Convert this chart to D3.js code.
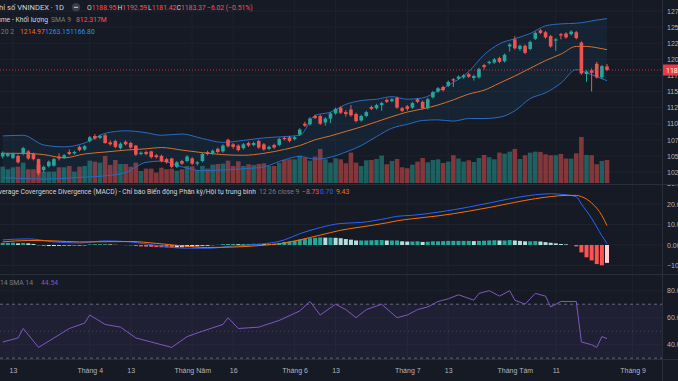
<!DOCTYPE html>
<html>
<head>
<meta charset="utf-8">
<script src="https://cdn.jsdelivr.net/npm/d3@7"></script>
<style>
body { margin: 0; background: #161a25; }
svg { display: block; font-family: Roboto, "Liberation Sans", sans-serif; }
</style>
</head>
<body>
<svg id="chart"></svg>
<script>
const WIDTH = 678;
const HEIGHT = 381;

// Daily candles, VNINDEX, 9 Mar 2023 .. 25 Aug 2023 (bar index 0..118)
const opens = [1049,1050,1047,1050,1053,1057,1053,1045,1028,1034,1035,1049,1047,1056,1054,1064,1060,1073,1081,1078,
  1082,1071,1073,1062,1072,1070,1066,1053,1056,1057,1051,1050,1045,1046,1033,1042,1042,1046,1038,1042,
  1056,1054,1061,1057,1075,1068,1066,1062,1070,1067,1073,1068,1061,1067,1067,1078,1079,1076,1083,1100,
  1099,1112,1112,1102,1108,1116,1125,1118,1122,1115,1105,1112,1126,1124,1129,1137,1135,1140,1124,1127,
  1125,1138,1134,1124,1141,1150,1157,1159,1169,1170,1172,1177,1171,1172,1191,1194,1195,1202,1197,1220,
  1231,1216,1221,1216,1232,1245,1242,1236,1229,1239,1240,1239,1242,1226,1177,1183,1193,1172,1188.95];
const highs = [1057,1055,1055,1052,1064,1059,1055,1046,1035,1043,1047,1054,1053,1060,1058,1066,1067,1081,1084,1083,
  1084,1074,1075,1071,1074,1072,1067,1057,1058,1058,1053,1052,1047,1047,1042,1044,1051,1048,1042,1055,
  1058,1060,1063,1068,1077,1070,1068,1070,1072,1072,1075,1070,1066,1069,1078,1080,1081,1081,1093,1103,
  1110,1114,1114,1110,1118,1125,1127,1121,1129,1117,1114,1120,1128,1131,1134,1139,1140,1142,1126,1129,
  1134,1140,1136,1140,1151,1157,1159,1167,1171,1175,1177,1179,1176,1187,1193,1198,1202,1204,1209,1225,
  1236,1223,1223,1229,1243,1247,1244,1238,1233,1241,1242,1245,1244,1228,1183,1186,1196,1191,1192.59];
const lows = [1046,1048,1045,1038,1051,1044,1043,1020,1024,1032,1033,1043,1045,1051,1052,1057,1058,1071,1075,1076,
  1069,1066,1062,1060,1066,1061,1050,1051,1051,1046,1046,1040,1038,1031,1031,1036,1040,1036,1035,1040,
  1051,1052,1054,1055,1063,1061,1057,1060,1064,1065,1061,1058,1059,1061,1065,1074,1071,1074,1081,1095,
  1097,1107,1098,1097,1101,1114,1115,1111,1111,1102,1103,1110,1121,1122,1120,1132,1133,1123,1118,1120,
  1123,1132,1122,1122,1139,1148,1150,1157,1157,1168,1170,1171,1167,1170,1184,1192,1193,1194,1195,1212,
  1215,1213,1208,1214,1230,1239,1232,1218,1213,1231,1232,1237,1231,1176,1165,1150,1170,1169,1181.42];
const closes = [1055,1053,1053,1040,1062,1046,1045,1023,1033,1041,1045,1046,1051,1053,1056,1059,1065,1079,1077,1081,
  1070,1068,1064,1069,1068,1063,1052,1055,1053,1048,1048,1042,1040,1033,1040,1038,1049,1038,1040,1053,
  1053,1058,1056,1066,1065,1064,1059,1068,1066,1070,1063,1060,1064,1063,1076,1076,1073,1079,1091,1097,
  1108,1109,1100,1108,1116,1123,1117,1115,1113,1104,1112,1118,1123,1129,1132,1134,1138,1125,1120,1123,
  1132,1134,1124,1138,1149,1155,1152,1165,1167,1173,1175,1173,1174,1185,1188,1196,1200,1196,1207,1223,
  1217,1221,1210,1227,1241,1241,1234,1220,1231,1237,1234,1243,1233,1178,1181,1179,1172,1189.39,1183.37];
// volume, millions of shares
const volumes = [575,484,553,575,717,484,484,646,400,400,400,553,553,600,400,575,600,787,752,717,
  953,636,812,670,670,575,717,424,506,506,365,540,484,506,435,484,600,590,460,600,
  506,646,670,682,787,600,764,600,660,636,670,694,600,600,717,812,835,835,965,894,
  787,930,1200,835,717,870,835,695,1070,717,600,800,812,847,965,660,777,847,553,520,
  647,753,882,730,812,835,706,753,977,860,753,800,740,882,988,907,835,1070,1035,1105,
  1200,847,977,1070,1105,1095,1010,977,977,1024,860,860,1047,1620,988,977,660,777,812.317];

// Bollinger Bands 20 2, read at these bar indices
const bbIdx   = [0,4,8,12,16,20,24,28,31,35,39,43,47,51,55,58,61,64,67,70,73,76,79,82,85,88,91,94,97,100,103,106,109,112,114,116,118];
const bbUpper = [1081,1082,1067,1064,1070,1085,1089,1086,1082,1084,1077,1071,1074,1078,1080,1082,1113,1118,1130,1136,1138,1142,1138,1140,1151,1164,1181,1207,1224,1232,1240,1252,1255,1256,1258,1261,1263.15];
const bbBasis = [1054,1054,1052,1047,1053,1056,1059,1061,1063,1059,1055,1052,1051,1054,1060,1066,1075,1081,1088,1095,1103,1111,1118,1123,1129,1137,1146,1152,1163,1174,1186,1198,1208,1220,1220,1218,1214.97];
const bbLower = [1016,1015,1014,1015,1017,1019,1024,1040,1042,1033,1027,1028,1030,1033,1044,1049,1045,1048,1056,1066,1080,1093,1099,1105,1106,1104,1108,1108,1110,1120,1139,1148,1163,1184,1179,1173,1166.80];

// MACD 12 26 9, lines read at these indices
const macdIdx  = [0,5,10,15,20,25,30,35,40,45,50,55,58,62,66,70,75,77,80,85,91,95,100,104,107,110,112,113,115,117,118];
const macdLine = [2.5,3.0,1.5,1.0,2.0,1.5,-0.2,-1.5,-1.6,-0.5,0.3,2.5,5.5,8.5,10.5,11,13,14,14.5,16,18.5,20.5,23,24.5,25,24.5,23.5,20,13,4.5,0.70];
const sigLine  = [1.5,2.2,2.0,1.5,1.6,1.7,0.8,-0.4,-1.2,-1.0,-0.3,1.0,2.5,4.8,7.2,8.8,10.8,11.8,12.8,14.2,16.5,18.3,20.8,22.6,23.6,24.2,24.2,23.6,20.5,14.4,9.43];
const macdHist = [1.0,1.0,1.1,0.8,1.0,0.8,0.5,-0.2,-0.5,-0.5,
  -0.5,-0.4,-0.3,-0.3,-0.4,-0.5,-0.2,0.3,0.4,0.4,
  0.4,0.3,0.1,0.0,-0.1,-0.2,-0.5,-0.7,-0.8,-0.9,
  -1.0,-1.1,-1.2,-1.3,-1.2,-1.1,-0.8,-0.8,-0.6,-0.4,
  -0.4,-0.1,0.1,0.4,0.5,0.5,0.4,0.5,0.5,0.6,
  0.6,0.5,0.6,0.6,1.0,1.5,1.7,2.0,2.6,3.0,
  3.3,3.5,3.7,3.6,3.6,3.5,3.3,2.9,2.6,2.2,
  2.2,2.2,2.3,2.4,2.4,2.2,2.2,2.2,1.8,1.7,
  1.7,1.8,1.5,1.6,1.8,1.8,1.9,2.0,2.0,2.0,
  2.0,2.0,1.9,2.0,2.1,2.2,2.3,2.2,2.2,2.4,
  2.2,2.0,1.8,1.8,1.9,1.7,1.4,1.1,0.8,0.5,
  0.3,0.0,-0.7,-3.6,-6.0,-7.5,-9.3,-9.9,-8.73];

// RSI 14, read at these indices
const rsiIdx  = [0,3,4,7,10,13,16,17,20,23,26,29,33,36,39,43,44,46,50,54,58,60,62,65,67,69,71,74,77,79,81,83,85,87,89,92,93,95,97,99,100,102,104,106,107,109,112,113,115,116,117,118];
const rsiVals = [42,45,52,38,45,52,56,62,55,53,45,42,38,46,50,55,60,52,53,58,65,72,62,70,66,60,66,70,60,62,66,68,72,74,77,73,78,80,76,80,73,70,78,76,68,72,72,42,40,38,46,44.54];

// ticks
const priceTicks = [1025,1050,1075,1100,1125,1150,1175,1200,1225,1250,1275];
const macdTicks = [-10,0,10,20,30];
const rsiTicks = [40,60,80];
const timeTickIdx = [2,17,25,37,45,57,65,79,87,100,108,123];
const timeTickLabels = ["13","Tháng 4","13","Tháng Năm","16","Tháng 6","13","Tháng 7","13","Tháng Tám","11","Tháng 9"];

const BG = "#161a25", GRID = "#1e222d", BORDER = "#2a2e39", TXT = "#b2b5be";
const UP = "#26a69a", DOWN = "#ef5350";
const PLOT_R = 662;
const FS = 6.8;

const svg = d3.select("#chart").attr("width", WIDTH).attr("height", HEIGHT);
svg.append("rect").attr("width", WIDTH).attr("height", HEIGHT).attr("fill", BG);

const defs = svg.append("defs");
function clip(id, y, h) {
  defs.append("clipPath").attr("id", id).append("rect").attr("x", 0).attr("y", y).attr("width", PLOT_R).attr("height", h);
  return "url(#" + id + ")";
}
const mainClip = clip("c-main", 0, 184);
const macdClip = clip("c-macd", 185, 88);
const rsiClip = clip("c-rsi", 275, 84);

// scales
const x = d3.scaleLinear().domain([0, 118]).range([2.7, 607]);
const yPrice = d3.scaleLinear().domain([1000, 1275]).range([188.1, 11]);
const yVol = d3.scaleLinear().domain([0, 1620]).range([183, 137]);
const yMacd = d3.scaleLinear().domain([-10, 20]).range([265.5, 204]);
const yRsi = d3.scaleLinear().domain([40, 80]).range([344.7, 290.7]);

// grid
const grid = svg.append("g");
grid.selectAll("line.v").data(timeTickIdx).enter().append("line")
  .attr("x1", d => x(d)).attr("x2", d => x(d)).attr("y1", 0).attr("y2", 359)
  .attr("stroke", GRID);
grid.append("g").attr("clip-path", mainClip).selectAll("line").data(priceTicks).enter().append("line")
  .attr("x1", 0).attr("x2", PLOT_R).attr("y1", d => yPrice(d)).attr("y2", d => yPrice(d)).attr("stroke", GRID);
grid.append("g").attr("clip-path", macdClip).selectAll("line").data(macdTicks).enter().append("line")
  .attr("x1", 0).attr("x2", PLOT_R).attr("y1", d => yMacd(d)).attr("y2", d => yMacd(d)).attr("stroke", GRID);
grid.append("g").attr("clip-path", rsiClip).selectAll("line").data(rsiTicks).enter().append("line")
  .attr("x1", 0).attr("x2", PLOT_R).attr("y1", d => yRsi(d)).attr("y2", d => yRsi(d)).attr("stroke", GRID);

// ---- main pane
const main = svg.append("g").attr("clip-path", mainClip);
const bars = d3.range(opens.length);

main.append("g").selectAll("rect").data(bars).enter().append("rect")
  .attr("x", i => x(i) - 2.3).attr("width", 4.6)
  .attr("y", i => yVol(volumes[i])).attr("height", i => yVol(0) - yVol(volumes[i]))
  .attr("fill", i => closes[i] >= opens[i] ? "rgba(38,166,154,0.5)" : "rgba(239,83,80,0.5)");

const bb = bbIdx.map((d, k) => ({ i: d, u: bbUpper[k], m: bbBasis[k], l: bbLower[k] }));
main.append("path").datum(bb)
  .attr("d", d3.area().x(d => x(d.i)).y0(d => yPrice(d.l)).y1(d => yPrice(d.u)).curve(d3.curveMonotoneX))
  .attr("fill", "rgba(33,150,243,0.07)");
[["u", "#2a6bc2"], ["m", "#d9702b"], ["l", "#2a6bc2"]].forEach(([k, c]) => {
  main.append("path").datum(bb)
    .attr("d", d3.line().x(d => x(d.i)).y(d => yPrice(d[k])).curve(d3.curveMonotoneX))
    .attr("fill", "none").attr("stroke", c).attr("stroke-width", 1);
});

const candles = main.append("g").selectAll("g").data(bars).enter().append("g");
candles.append("line")
  .attr("x1", i => x(i)).attr("x2", i => x(i))
  .attr("y1", i => yPrice(highs[i])).attr("y2", i => yPrice(lows[i]))
  .attr("stroke", i => closes[i] >= opens[i] ? UP : DOWN);
candles.append("rect")
  .attr("x", i => x(i) - 1.8).attr("width", 3.6)
  .attr("y", i => yPrice(Math.max(opens[i], closes[i])))
  .attr("height", i => Math.max(1, Math.abs(yPrice(opens[i]) - yPrice(closes[i]))))
  .attr("fill", i => closes[i] >= opens[i] ? UP : DOWN);

const lastClose = closes[closes.length - 1];
main.append("line").attr("x1", 0).attr("x2", PLOT_R)
  .attr("y1", yPrice(lastClose)).attr("y2", yPrice(lastClose))
  .attr("stroke", "#f23645").attr("stroke-dasharray", "1,2").attr("opacity", 0.8);

// ---- MACD pane
const macdG = svg.append("g").attr("clip-path", macdClip);
macdG.append("g").selectAll("rect").data(bars).enter().append("rect")
  .attr("x", i => x(i) - 2).attr("width", 4)
  .attr("y", i => yMacd(Math.max(0, macdHist[i])))
  .attr("height", i => Math.abs(yMacd(macdHist[i]) - yMacd(0)))
  .attr("fill", i => {
    const h = macdHist[i], p = i > 0 ? macdHist[i - 1] : h;
    if (h >= 0) return h >= p ? "#26a69a" : "#b2dfdb";
    return h < p ? "#ff5252" : "#ffcdd2";
  });
const macdPts = macdIdx.map((d, k) => ({ i: d, m: macdLine[k], s: sigLine[k] }));
[["m", "#2962ff"], ["s", "#ff6d00"]].forEach(([k, c]) => {
  macdG.append("path").datum(macdPts)
    .attr("d", d3.line().x(d => x(d.i)).y(d => yMacd(d[k])).curve(d3.curveMonotoneX))
    .attr("fill", "none").attr("stroke", c).attr("stroke-width", 1);
});

// ---- RSI pane
const rsiG = svg.append("g").attr("clip-path", rsiClip);
rsiG.append("rect").attr("x", 0).attr("width", PLOT_R)
  .attr("y", yRsi(70)).attr("height", yRsi(30) - yRsi(70))
  .attr("fill", "rgba(126,87,194,0.1)");
[70, 50, 30].forEach(v => {
  rsiG.append("line").attr("x1", 0).attr("x2", PLOT_R).attr("y1", yRsi(v)).attr("y2", yRsi(v))
    .attr("stroke", "#787b86").attr("stroke-dasharray", v === 50 ? "1,3" : "3,3")
    .attr("opacity", v === 50 ? 0.4 : 0.8);
});
rsiG.append("path").datum(rsiIdx.map((d, k) => ({ i: d, v: rsiVals[k] })))
  .attr("d", d3.line().x(d => x(d.i)).y(d => yRsi(d.v)))
  .attr("fill", "none").attr("stroke", "#7e57c2").attr("stroke-width", 1);

// ---- borders
svg.append("line").attr("x1", PLOT_R + 0.5).attr("x2", PLOT_R + 0.5).attr("y1", 0).attr("y2", HEIGHT).attr("stroke", BORDER);
[184.5, 274.5, 359.5].forEach(y => {
  svg.append("line").attr("x1", 0).attr("x2", WIDTH).attr("y1", y).attr("y2", y).attr("stroke", BORDER);
});

// ---- axes
function styleAxis(g) {
  g.select(".domain").remove();
  g.selectAll("text").attr("fill", TXT).attr("font-size", 7);
}
const minus = s => s.replace("-", "\u2212");
svg.append("g").attr("transform", `translate(${PLOT_R},0)`)
  .call(d3.axisRight(yPrice).tickValues(priceTicks).tickSize(0).tickPadding(5).tickFormat(d3.format("d")))
  .call(styleAxis);
defs.append("clipPath").attr("id", "c-axmacd").append("rect").attr("x", 0).attr("y", 185).attr("width", 20).attr("height", 88);
svg.append("g").attr("transform", `translate(${PLOT_R},0)`).attr("clip-path", "url(#c-axmacd)")
  .call(d3.axisRight(yMacd).tickValues(macdTicks).tickSize(0).tickPadding(5).tickFormat(d => minus(d3.format(".2f")(d))))
  .call(styleAxis);
svg.append("g").attr("transform", `translate(${PLOT_R},0)`)
  .call(d3.axisRight(yRsi).tickValues(rsiTicks).tickSize(0).tickPadding(5).tickFormat(d3.format(".2f")))
  .call(styleAxis);
svg.append("g").attr("transform", "translate(0,360)")
  .call(d3.axisBottom(x).tickValues(timeTickIdx).tickSize(0).tickPadding(8).tickFormat((d, k) => timeTickLabels[k]))
  .call(styleAxis);

// last price tag
svg.append("rect").attr("x", PLOT_R + 1).attr("y", yPrice(lastClose) - 5.5).attr("width", 16).attr("height", 11).attr("fill", "#f23645");
svg.append("text").attr("x", PLOT_R + 4).attr("y", yPrice(lastClose) + 2.5).attr("fill", "#fff").attr("font-size", 7).text("1183.37");

// ---- legends
function txt(xp, yp, s, color, anchor, size) {
  return svg.append("text").attr("x", xp).attr("y", yp).attr("fill", color).attr("font-size", size || FS)
    .attr("text-anchor", anchor || "start").text(s);
}
const LBL = "#d1d4dc", DIM = "#787b86", RED = "#f7525f";
txt(64, 9.8, "Chỉ số VNINDEX · 1D", LBL, "end", 7.6);
svg.append("circle").attr("cx", 76).attr("cy", 7.3).attr("r", 4.2).attr("fill", "#3a3e4a");
svg.append("line").attr("x1", 74).attr("x2", 78).attr("y1", 7.3).attr("y2", 7.3).attr("stroke", LBL);
[["O", "1188.95", 87], ["H", "1192.59", 117.5], ["L", "1181.42", 148], ["C", "1183.37", 176.5]].forEach(([k, v, xp]) => {
  const t = txt(xp, 9.8, "", LBL);
  t.append("tspan").text(k);
  t.append("tspan").attr("fill", RED).text(v);
});
txt(207, 9.8, "\u22126.02 (\u22120.51%)", RED);

txt(48, 21.8, "Volume - Khối lượng", LBL, "end");
txt(51, 21.8, "SMA 9", DIM);
txt(76, 21.8, "812.317M", RED);

txt(14, 33.8, "BB 20 2", DIM, "end");
txt(20, 33.8, "1214.97", "#ff6d00");
txt(45, 33.8, "1263.15", "#2196f3");
txt(70, 33.8, "1166.80", "#2196f3");

txt(256, 193.5, "Moving Average Covergence Divergence (MACD) - Chỉ báo Biến động Phân kỳ/Hội tụ trung bình", LBL, "end");
txt(259, 193.5, "12 26 close 9", DIM);
txt(302, 193.5, "\u22128.73", "#ff5252");
txt(320, 193.5, "0.70", "#2962ff");
txt(336, 193.5, "9.43", "#ff6d00");

txt(33, 285, "RSI 14 SMA 14", DIM, "end");
txt(41, 285, "44.54", "#7e57c2");
</script>
</body>
</html>
